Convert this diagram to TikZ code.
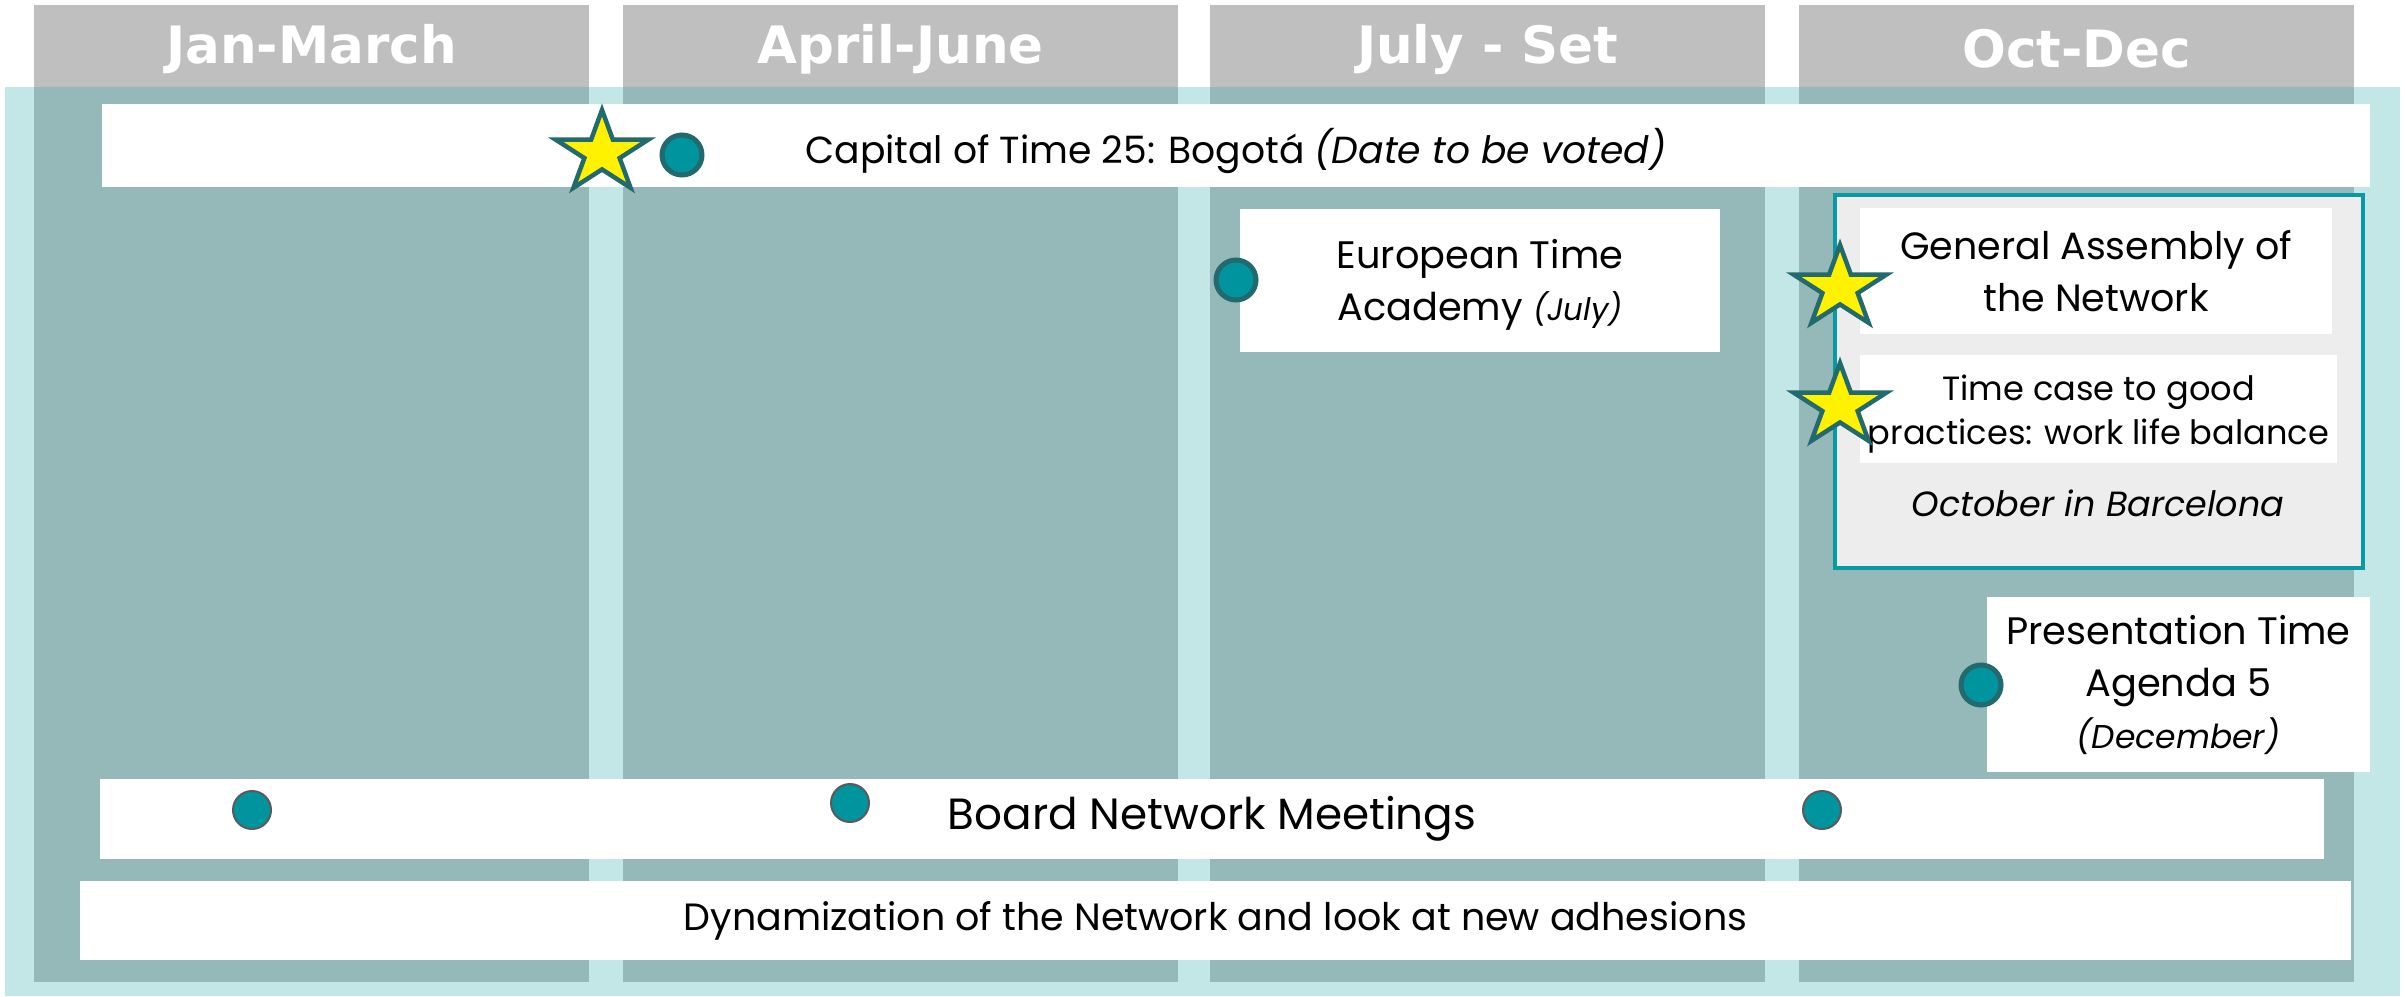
\documentclass[tikz,border=0pt]{standalone}
\usepackage{fontspec}
\setmainfont{Poppins}
\newfontfamily\hdrfont{DejaVu Sans}
\usetikzlibrary{shapes.geometric}
\definecolor{hdrgray}{HTML}{BFBFBF}
\definecolor{lightteal}{HTML}{C3E6E6}
\definecolor{darkteal}{HTML}{95B8B8}
\definecolor{dotfill}{HTML}{00949F}
\definecolor{dotline}{HTML}{236A6E}
\definecolor{boxline}{HTML}{0899A6}
\definecolor{boxfill}{HTML}{EDEDED}
\definecolor{bdotline}{HTML}{5A5A5A}
\begin{document}
\begin{tikzpicture}[x=1pt,y=-1pt,
  hdr/.style={fill=hdrgray, inner sep=0, minimum width=555pt, minimum height=82pt},
  hdrtext/.style={inner sep=0, text=white, font=\hdrfont\bfseries\fontsize{51.5}{60}\selectfont},
  col/.style={fill=darkteal},
  wbox/.style={fill=white, inner sep=0},
  txt/.style={inner sep=0, align=center},
  dot/.style={circle, fill=dotfill, draw=dotline, line width=5pt, minimum size=40pt, inner sep=0},
  bdot/.style={circle, fill=dotfill, draw=bdotline, line width=2pt, minimum size=38pt, inner sep=0},
  starmark/.style={star, star points=5, star point ratio=2.618, minimum size=86pt, inner sep=0,
    fill=yellow, draw=dotline, line width=4.5pt, transform shape},
  fa/.style={font=\fontsize{38.3}{52}\selectfont},
]
\useasboundingbox (0,0) rectangle (2405,996);
% headers
\node[hdr] (h1) at (311.5,46) {};
\node[hdr] (h2) at (900.5,46) {};
\node[hdr] (h3) at (1487.5,46) {};
\node[hdr] (h4) at (2076.5,46) {};
\node[hdrtext] (h1t) at ([yshift=-3pt]h1.center) {Jan-March};
\node[hdrtext] (h2t) at ([yshift=-3pt]h2.center) {April-June};
\node[hdrtext] (h3t) at ([yshift=-3pt]h3.center) {July - Set};
\node[hdrtext] (h4t) at ([yshift=-3pt]h4.center) {Oct-Dec};
% backgrounds
\fill[lightteal] (5,87) rectangle (2400,996);
\fill[col] (34,87) rectangle (589,982);
\fill[col] (623,87) rectangle (1178,982);
\fill[col] (1210,87) rectangle (1765,982);
\fill[col] (1799,87) rectangle (2354,982);
% capital bar
\node[wbox, minimum width=2268pt, minimum height=83pt] (cap) at (1236,145.5) {};
\node[txt, font=\fontsize{37.7}{50}\selectfont] (capt) at ([yshift=-5pt]cap.center)
  {Capital of Time 25: Bogotá \textit{(Date to be voted)}};
% European academy
\node[wbox, minimum width=480pt, minimum height=143pt] (eta) at (1480,280.5) {};
\node[txt, fa] (etat) at ([yshift=-4pt]eta.center)
  {European Time\\Academy {\fontsize{31}{40}\selectfont\itshape (July)}};
% container
\node[draw=boxline, fill=boxfill, line width=4pt, minimum width=528pt, minimum height=373pt, inner sep=0] (gabox) at (2099,381.5) {};
\node[wbox, minimum width=472pt, minimum height=126pt] (ga) at (2096,271) {};
\node[txt, font=\fontsize{38}{52}\selectfont] (gat) at ([yshift=0pt]ga.center)
  {General Assembly of\\the Network};
\node[wbox, minimum width=477pt, minimum height=108pt] (tc) at (2098.5,409) {};
\node[txt, font=\fontsize{33.6}{44}\selectfont] (tct) at ([yshift=-5pt]tc.center)
  {Time case to good\\practices: work life balance};
\node[txt, font=\fontsize{35}{40}\selectfont\itshape] (oct) at (2098,503) {October in Barcelona};
% presentation
\node[wbox, minimum width=383pt, minimum height=175pt] (pres) at (2178.5,684.5) {};
\node[txt, fa] (prest) at (pres.center)
  {Presentation Time\\Agenda 5\\{\fontsize{33}{40}\selectfont\itshape (December)}};
% board
\node[wbox, minimum width=2224pt, minimum height=80pt] (board) at (1212,819) {};
\node[txt, font=\fontsize{43.7}{50}\selectfont] (boardt) at (board.center) {Board Network Meetings};
% dynamization
\node[wbox, minimum width=2271pt, minimum height=79pt] (dyn) at (1215.5,920.5) {};
\node[txt, font=\fontsize{38}{45}\selectfont] (dynt) at (dyn.center)
  {Dynamization of the Network and look at new adhesions};
% dots
\node[dot] (d1) at (682,155) {};
\node[dot] (d2) at (1236,280) {};
\node[dot] (d3) at (1981,685) {};
\node[bdot] (b1) at (252,810) {};
\node[bdot] (b2) at (850,803) {};
\node[bdot] (b3) at (1822,810) {};
% stars
\begin{scope}[shift={(602,153)}, xscale=1.13]
  \node[starmark] (s1) at (0,0) {};
\end{scope}
\begin{scope}[shift={(1840,288)}, xscale=1.13]
  \node[starmark] (s2) at (0,0) {};
\end{scope}
\begin{scope}[shift={(1840,406)}, xscale=1.13]
  \node[starmark] (s3) at (0,0) {};
\end{scope}
\end{tikzpicture}
\end{document}
